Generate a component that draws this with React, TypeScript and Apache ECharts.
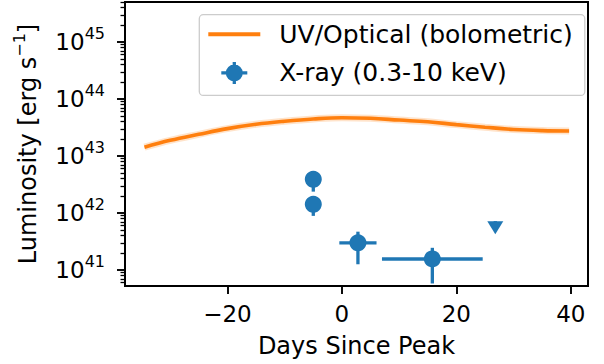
import React, { useEffect, useRef } from 'react';
import * as echarts from 'echarts';

// UV/optical bolometric light curve (days since peak, erg/s)
const OPT_DAYS = [-34.5, -30, -25, -20, -15, -10, -5, 0, 5, 10, 15, 20, 25, 30, 35, 39.7];
const OPT_LUM = [1.43e43, 1.88e43, 2.4e43, 3.02e43, 3.6e43, 4.07e43, 4.47e43, 4.7e43, 4.59e43, 4.27e43, 3.98e43, 3.55e43, 3.2e43, 2.92e43, 2.79e43, 2.75e43];

// X-ray detections with error ranges
const XRAY_DAYS = [-5.0, -5.0, 2.8, 15.8];
const XRAY_DAY_LO = [-5.0, -5.0, -0.45, 7.0];
const XRAY_DAY_HI = [-5.0, -5.0, 6.05, 24.6];
const XRAY_LUM = [3.9e42, 1.42e42, 3.0e41, 1.56e41];
const XRAY_LUM_LO = [2.37e42, 8.9e41, 1.26e41, 5.8e40];
const XRAY_LUM_HI = [4.6e42, 1.7e42, 4.7e41, 2.45e41];

// X-ray upper limit
const UL_DAYS = [26.8];
const UL_LUM = [5.5e41];
const UL_STUB = [7.2e41];

const X_TICKS = [-20, 0, 20, 40];
const Y_TICKS = [1e41, 1e42, 1e43, 1e44, 1e45];

const OPT_NAME = 'UV/Optical (bolometric)';
const XRAY_NAME = 'X-ray (0.3-10 keV)';

const ORANGE = '#ff7f0e';
const BLUE = '#1f77b4';
const FONT = 'DejaVu Sans';

const X_MIN = -37.9;
const X_MAX = 43.0;
const Y_MIN = Math.pow(10, 40.719);
const Y_MAX = Math.pow(10, 45.702);

// log-spaced minor ticks (2..9 × 10^n) inside the visible range
const Y_MINOR: number[] = [];
for (let d = 40; d <= 45; d++) {
  for (let k = 2; k <= 9; k++) {
    const v = k * Math.pow(10, d);
    if (v > Y_MIN && v < Y_MAX) Y_MINOR.push(v);
  }
}

// legend marker: filled circle with horizontal and vertical error bars
const XRAY_ICON =
  'path://M4.5,11 A8.5,8.5 0 1,1 21.5,11 A8.5,8.5 0 1,1 4.5,11 Z M0,9.35 H26 V12.65 H0 Z M11.35,0 H14.65 V22 H11.35 Z';
const LINE_ICON = 'path://M0,0 H52 V4 H0 Z';

export default function App() {
  const ref = useRef<HTMLDivElement>(null);

  useEffect(() => {
    if (!ref.current) return;
    const chart = echarts.init(ref.current, null, { renderer: 'svg' });

    const optData = OPT_DAYS.map((d, i) => [d, OPT_LUM[i]]);
    const xrayPts = XRAY_DAYS.map((d, i) => [d, XRAY_LUM[i]]);
    const errRows = XRAY_DAYS.map((d, i) => [d, XRAY_LUM[i], XRAY_DAY_LO[i], XRAY_DAY_HI[i], XRAY_LUM_LO[i], XRAY_LUM_HI[i]]);
    UL_DAYS.forEach((d, i) => errRows.push([d, UL_LUM[i], d, d, UL_LUM[i], UL_STUB[i]]));
    const ulPts = UL_DAYS.map((d, i) => [d, UL_LUM[i]]);

    const option: any = {
      animation: false,
      backgroundColor: '#ffffff',
      grid: {
        left: 125,
        right: 16,
        top: 2,
        bottom: 78,
        show: true,
        borderColor: '#000',
        borderWidth: 2,
        backgroundColor: 'transparent',
      },
      legend: {
        orient: 'vertical',
        left: 199.3,
        top: 14.7,
        padding: [7, 12, 10, 9],
        itemWidth: 52,
        itemHeight: 22,
        itemGap: 13.7,
        borderColor: '#cccccc',
        borderWidth: 1.3,
        borderRadius: 4,
        backgroundColor: 'rgba(255,255,255,0.8)',
        selectedMode: false,
        textStyle: { fontFamily: FONT, fontSize: 25, color: '#000', lineHeight: 24, padding: [0, 0, 0, 14] },
        data: [
          { name: OPT_NAME, icon: LINE_ICON, itemStyle: { color: ORANGE } },
          { name: XRAY_NAME, icon: XRAY_ICON, itemStyle: { color: BLUE } },
        ],
      },
      xAxis: {
        type: 'value',
        min: X_MIN,
        max: X_MAX,
        name: 'Days Since Peak',
        nameLocation: 'middle',
        nameGap: 48,
        nameTextStyle: { fontFamily: FONT, fontSize: 24, color: '#000' },
        axisLine: { show: false, onZero: false },
        splitLine: { show: false },
        axisTick: { show: true, length: 8, lineStyle: { color: '#000', width: 1.9 }, customValues: X_TICKS },
        axisLabel: {
          customValues: X_TICKS,
          margin: 16,
          fontFamily: FONT,
          fontSize: 23,
          color: '#000',
          formatter: (v: number) => (v < 0 ? '\u2212' + Math.abs(v) : String(v)),
        },
      },
      yAxis: [
        {
          type: 'log',
          min: Y_MIN,
          max: Y_MAX,
          position: 'left',
          name: '{a|Luminosity [erg s}{s|\u22121}{a|]}',
          nameLocation: 'middle',
          nameGap: 81,
          nameTextStyle: {
            fontFamily: FONT,
            color: '#000',
            rich: {
              a: { fontFamily: FONT, fontSize: 24, color: '#000' },
              s: { fontFamily: FONT, fontSize: 16, color: '#000', padding: [0, 0, 17, 0] },
            },
          },
          axisLine: { show: false, onZero: false },
          splitLine: { show: false },
          axisTick: { show: true, length: 8, lineStyle: { color: '#000', width: 1.9 }, customValues: Y_TICKS },
          axisLabel: {
            customValues: Y_TICKS,
            margin: 20,
            formatter: (v: number) => `{b|10}{e|${Math.round(Math.log10(v))}}`,
            rich: {
              b: { fontFamily: FONT, fontSize: 23, color: '#000' },
              e: { fontFamily: FONT, fontSize: 16, color: '#000', padding: [0, 0, 17, 0] },
            },
          },
        },
        {
          // minor log ticks only
          type: 'log',
          min: Y_MIN,
          max: Y_MAX,
          position: 'left',
          offset: 0,
          axisLine: { show: false, onZero: false },
          splitLine: { show: false },
          axisLabel: { show: false },
          axisTick: { show: true, length: 4.5, lineStyle: { color: '#000', width: 1.3 }, customValues: Y_MINOR },
        },
      ],
      series: [
        {
          name: 'band',
          type: 'line',
          data: optData,
          smooth: 0.4,
          symbol: 'none',
          lineStyle: { color: ORANGE, width: 7, opacity: 0.22 },
          silent: true,
          z: 1,
        },
        {
          name: OPT_NAME,
          type: 'line',
          data: optData,
          smooth: 0.4,
          symbol: 'none',
          color: ORANGE,
          lineStyle: { color: ORANGE, width: 3.6 },
          z: 2,
        },
        {
          name: 'xray-errors',
          type: 'custom',
          clip: true,
          data: errRows,
          encode: { x: [0, 2, 3], y: [1, 4, 5] },
          renderItem: (_params: any, api: any) => {
            const c = api.coord([api.value(0), api.value(1)]);
            const xl = api.coord([api.value(2), api.value(1)]);
            const xh = api.coord([api.value(3), api.value(1)]);
            const yl = api.coord([api.value(0), api.value(4)]);
            const yh = api.coord([api.value(0), api.value(5)]);
            const style = { stroke: BLUE, lineWidth: 3.3, fill: 'none' };
            return {
              type: 'group',
              children: [
                { type: 'line', shape: { x1: xl[0], y1: c[1], x2: xh[0], y2: c[1] }, style },
                { type: 'line', shape: { x1: c[0], y1: yl[1], x2: c[0], y2: yh[1] }, style },
              ],
            };
          },
          z: 3,
        },
        {
          name: XRAY_NAME,
          type: 'scatter',
          data: xrayPts,
          symbol: 'circle',
          symbolSize: 17,
          color: BLUE,
          itemStyle: { color: BLUE, opacity: 1 },
          z: 4,
        },
        {
          name: 'xray-limit',
          type: 'scatter',
          data: ulPts,
          symbol: 'triangle',
          symbolRotate: 180,
          symbolSize: [16, 13],
          itemStyle: { color: BLUE, opacity: 1 },
          z: 4,
        },
      ],
    };

    chart.setOption(option);
    return () => chart.dispose();
  }, []);

  return <div ref={ref} style={{ position: 'absolute', left: 0, top: 0, width: 604, height: 364 }} />;
}
